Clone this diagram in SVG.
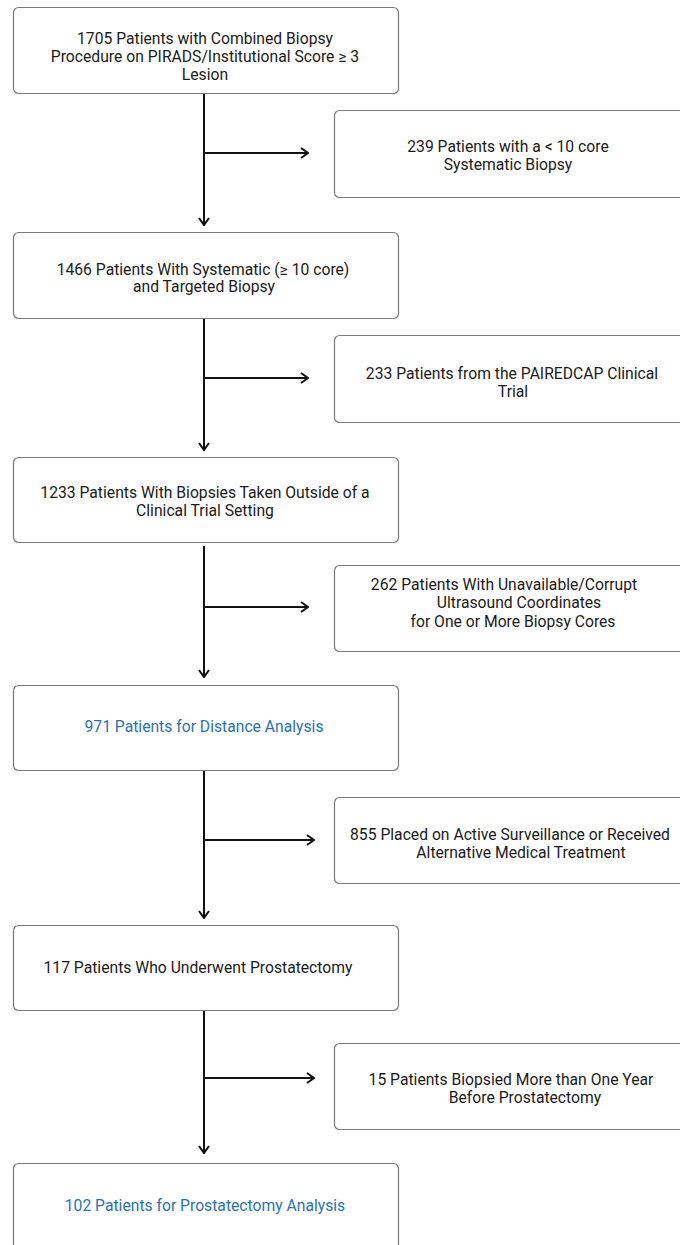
<svg xmlns="http://www.w3.org/2000/svg" width="680" height="1245" viewBox="0 0 680 1245">
<defs>
<marker id="chev" viewBox="0 0 10 12" refX="9" refY="6" markerWidth="10" markerHeight="12" markerUnits="userSpaceOnUse" orient="auto">
<path d="M2,1 L9,6 L2,11" fill="none" stroke="#111" stroke-width="2"/>
</marker>
<style>
.box{fill:#fff;stroke:#7a7a7a;stroke-width:1.2}
.t{font-family:Roboto,"Liberation Sans",sans-serif;font-size:15.7px;fill:#1a1a1a;text-anchor:middle}
.b{fill:#2a72b5}
.c{fill:none;stroke:#111;stroke-width:2;marker-end:url(#chev)}
</style>
</defs>
<rect width="680" height="1245" fill="#fff"/>
<g id="connectors">
<path class="c" d="M204,93 V225"/>
<path class="c" d="M204,153 H308"/>
<path class="c" d="M204,318 V450"/>
<path class="c" d="M204,378 H308"/>
<path class="c" d="M204,546 V677"/>
<path class="c" d="M204,607 H308"/>
<path class="c" d="M204,771 V918"/>
<path class="c" d="M204,840 H314"/>
<path class="c" d="M204,1011 V1153"/>
<path class="c" d="M204,1078 H314"/>
</g>
<g id="n1">
<rect class="box" x="13.5" y="7.5" width="385" height="86" rx="5"/>
<text class="t" x="205" y="44">1705 Patients with Combined Biopsy</text>
<text class="t" x="205" y="62">Procedure on PIRADS/Institutional Score ≥ 3</text>
<text class="t" x="205" y="80">Lesion</text>
</g>
<g id="n2">
<rect class="box" x="334.5" y="110.5" width="360" height="87" rx="5"/>
<text class="t" x="508" y="152">239 Patients with a &lt; 10 core</text>
<text class="t" x="508" y="170">Systematic Biopsy</text>
</g>
<g id="n3">
<rect class="box" x="13.5" y="232.5" width="385" height="86" rx="5"/>
<text class="t" x="203" y="275">1466 Patients With Systematic (≥ 10 core)</text>
<text class="t" x="204" y="292">and Targeted Biopsy</text>
</g>
<g id="n4">
<rect class="box" x="334.5" y="335.5" width="360" height="87" rx="5"/>
<text class="t" x="512" y="379">233 Patients from the PAIREDCAP Clinical</text>
<text class="t" x="513" y="397">Trial</text>
</g>
<g id="n5">
<rect class="box" x="13.5" y="457.5" width="385" height="85" rx="5"/>
<text class="t" x="205" y="498">1233 Patients With Biopsies Taken Outside of a</text>
<text class="t" x="205" y="516">Clinical Trial Setting</text>
</g>
<g id="n6">
<rect class="box" x="334.5" y="565.5" width="360" height="86" rx="5"/>
<text class="t" x="504" y="590">262 Patients With Unavailable/Corrupt</text>
<text class="t" x="519" y="608">Ultrasound Coordinates</text>
<text class="t" x="513" y="627">for One or More Biopsy Cores</text>
</g>
<g id="n7">
<rect class="box" x="13.5" y="685.5" width="385" height="85" rx="5"/>
<text class="t b" x="204" y="732">971 Patients for Distance Analysis</text>
</g>
<g id="n8">
<rect class="box" x="334.5" y="797.5" width="360" height="86" rx="5"/>
<text class="t" x="510" y="840">855 Placed on Active Surveillance or Received</text>
<text class="t" x="521" y="858">Alternative Medical Treatment</text>
</g>
<g id="n9">
<rect class="box" x="13.5" y="925.5" width="385" height="85" rx="5"/>
<text class="t" x="198" y="973">117 Patients Who Underwent Prostatectomy</text>
</g>
<g id="n10">
<rect class="box" x="334.5" y="1043.5" width="360" height="86" rx="5"/>
<text class="t" x="511" y="1085">15 Patients Biopsied More than One Year</text>
<text class="t" x="525" y="1103">Before Prostatectomy</text>
</g>
<g id="n11">
<rect class="box" x="13.5" y="1163.5" width="385" height="86" rx="5"/>
<text class="t b" x="205" y="1211">102 Patients for Prostatectomy Analysis</text>
</g>
</svg>
